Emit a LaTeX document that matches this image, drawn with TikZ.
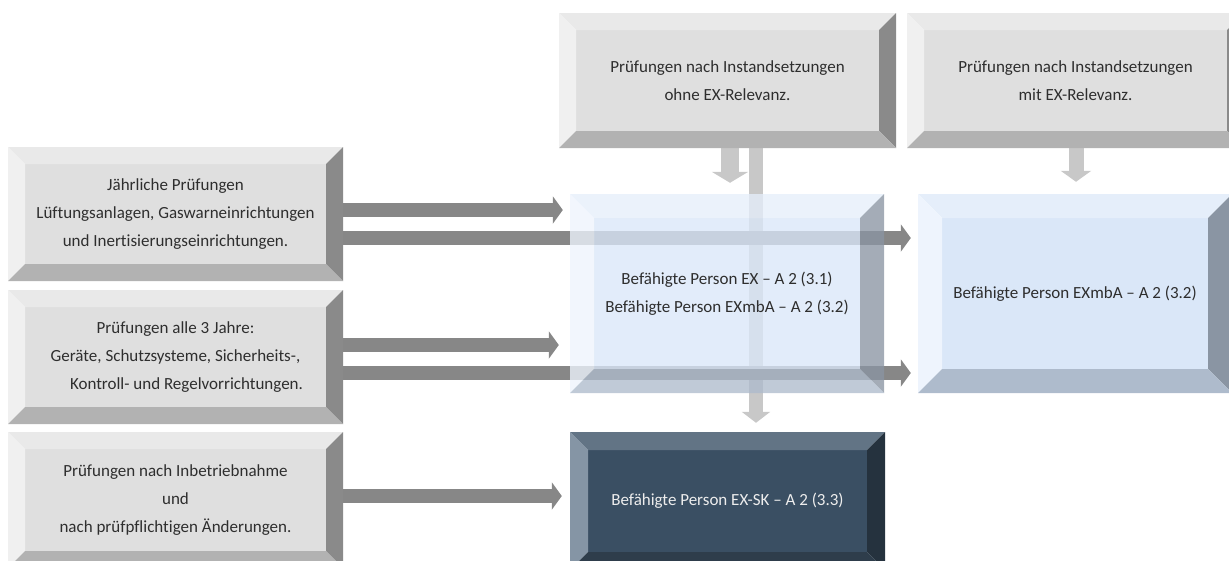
\documentclass[tikz,border=0pt]{standalone}
\usepackage{fontspec}
\setmainfont{Carlito}[Ligatures = NoCommon]
\usetikzlibrary{arrows.meta, backgrounds}

\definecolor{grin}{HTML}{DFDFDF}
\definecolor{grtop}{HTML}{E9E9E9}
\definecolor{grleft}{HTML}{F0F0F0}
\definecolor{grright}{HTML}{8A8A8A}
\definecolor{grbot}{HTML}{B2B2B2}
\definecolor{blin}{HTML}{DAE7F8}
\definecolor{bltop}{HTML}{E5EEFA}
\definecolor{blleft}{HTML}{EEF4FD}
\definecolor{blright}{HTML}{8A95A3}
\definecolor{blbot}{HTML}{AEBBCC}
\definecolor{dkin}{HTML}{3A4F63}
\definecolor{dktop}{HTML}{627485}
\definecolor{dkleft}{HTML}{8595A5}
\definecolor{dkright}{HTML}{25323E}
\definecolor{dkbot}{HTML}{2E3D4B}
\definecolor{txgr}{HTML}{2E2E2E}
\definecolor{pfdark}{HTML}{878787}
\definecolor{pflight}{HTML}{C8C8C8}

\tikzset{
  bev/.store in = \bv, bev = 17pt,
  bop/.store in = \bop, bop = 1,
  bevel/.style = {path picture = {
    \coordinate (nw) at (path picture bounding box.north west);
    \coordinate (ne) at (path picture bounding box.north east);
    \coordinate (sw) at (path picture bounding box.south west);
    \coordinate (se) at (path picture bounding box.south east);
    \fill[#1in, fill opacity = \bop] ([xshift=\bv, yshift=-\bv]nw) rectangle ([xshift=-\bv, yshift=\bv]se);
    \fill[#1top, fill opacity = \bop] (nw) -- (ne) -- ([xshift=-\bv, yshift=-\bv]ne) -- ([xshift=\bv, yshift=-\bv]nw) -- cycle;
    \fill[#1left, fill opacity = \bop] (nw) -- ([xshift=\bv, yshift=-\bv]nw) -- ([xshift=\bv, yshift=\bv]sw) -- (sw) -- cycle;
    \fill[#1right, fill opacity = \bop] (ne) -- (se) -- ([xshift=-\bv, yshift=\bv]se) -- ([xshift=-\bv, yshift=-\bv]ne) -- cycle;
    \fill[#1bot, fill opacity = \bop] (sw) -- (se) -- ([xshift=-\bv, yshift=\bv]se) -- ([xshift=\bv, yshift=\bv]sw) -- cycle;
  }}
}

\begin{document}
\begin{tikzpicture}[x = 1pt, y = -1pt,
  box/.style = {rectangle, inner sep = 0pt, align = center, font = \fontsize{17}{28}\selectfont},
  grau/.style = {box, bevel = gr, text = txgr, minimum width = 335pt, minimum height = 134pt},
  blau/.style = {box, bevel = bl, bev = 24pt, text = txgr, minimum width = 314pt, minimum height = 199pt},
  dunkel/.style = {box, bevel = dk, bev = 18pt, text = white!93!black, minimum width = 315pt, minimum height = 138pt},
  pf/.style = {draw = pfdark, line width = 14pt, -{Triangle[width = 27pt, length = 10pt]}},
  pfv/.style = {draw = pflight, line width = #1, -{Triangle[width = #1 + 14pt, length = 11pt]}}]
\useasboundingbox (0,0) rectangle (1229,560);

% Pruefanlaesse
\node[grau] (jahr) at (175.5,214) {Jährliche Prüfungen\\Lüftungsanlagen, Gaswarneinrichtungen\\und Inertisierungseinrichtungen.};
\node[grau] (drei) at (175.5,357) {Prüfungen alle 3 Jahre:\\Geräte, Schutzsysteme, Sicherheits-,\\\hspace*{22pt}Kontroll- und Regelvorrichtungen.};
\node[grau, minimum height = 136pt] (inbetr) at (175.5,500) {Prüfungen nach Inbetriebnahme\\und\\nach prüfpflichtigen Änderungen.};
\node[grau, minimum width = 337pt, minimum height = 135pt] (ohne) at (727.5,80.5) {Prüfungen nach Instandsetzungen\\ohne EX-Relevanz.};
\node[grau, minimum width = 337pt, minimum height = 135pt] (mit) at (1075.5,80.5) {Prüfungen nach Instandsetzungen\\mit EX-Relevanz.};

% befaehigte Personen
\node[blau, bop = 0.78] (ex) at (727,293.5) {Befähigte Person EX – A 2 (3.1)\\Befähigte Person EXmbA – A 2 (3.2)};
\node[blau] (exmba) at (1075,293.5) {Befähigte Person EXmbA – A 2 (3.2)};
\node[dunkel] (exsk) at (727.5,501) {Befähigte Person EX-SK – A 2 (3.3)};

\begin{scope}[on background layer]
\draw[pfv = 18pt, shorten >= 11pt] ([xshift = 2.5pt]ohne.south) -- ([xshift = 2.5pt]ohne.south |- ex.north);
\draw[pfv = 14pt, shorten >= 9pt] ([xshift = 28.5pt]ohne.south) -- ([xshift = 28.5pt]ohne.south |- exsk.north);
\draw[pfv = 15pt, shorten >= 12pt] ([xshift = 0.5pt]mit.south) -- ([xshift = 0.5pt]mit.south |- exmba.north);
\foreach \a/\s/\b/\k in {jahr/4/ex/7, jahr/-24/exmba/7, drei/12/ex/11, drei/-16/exmba/7, inbetr/4/exsk/8}{
\path ([yshift = \s pt]\a.east) coordinate (h);
\draw[pf, shorten >= \k pt] (h) -- (h -| \b.west);
}
\end{scope}
\end{tikzpicture}
\end{document}
